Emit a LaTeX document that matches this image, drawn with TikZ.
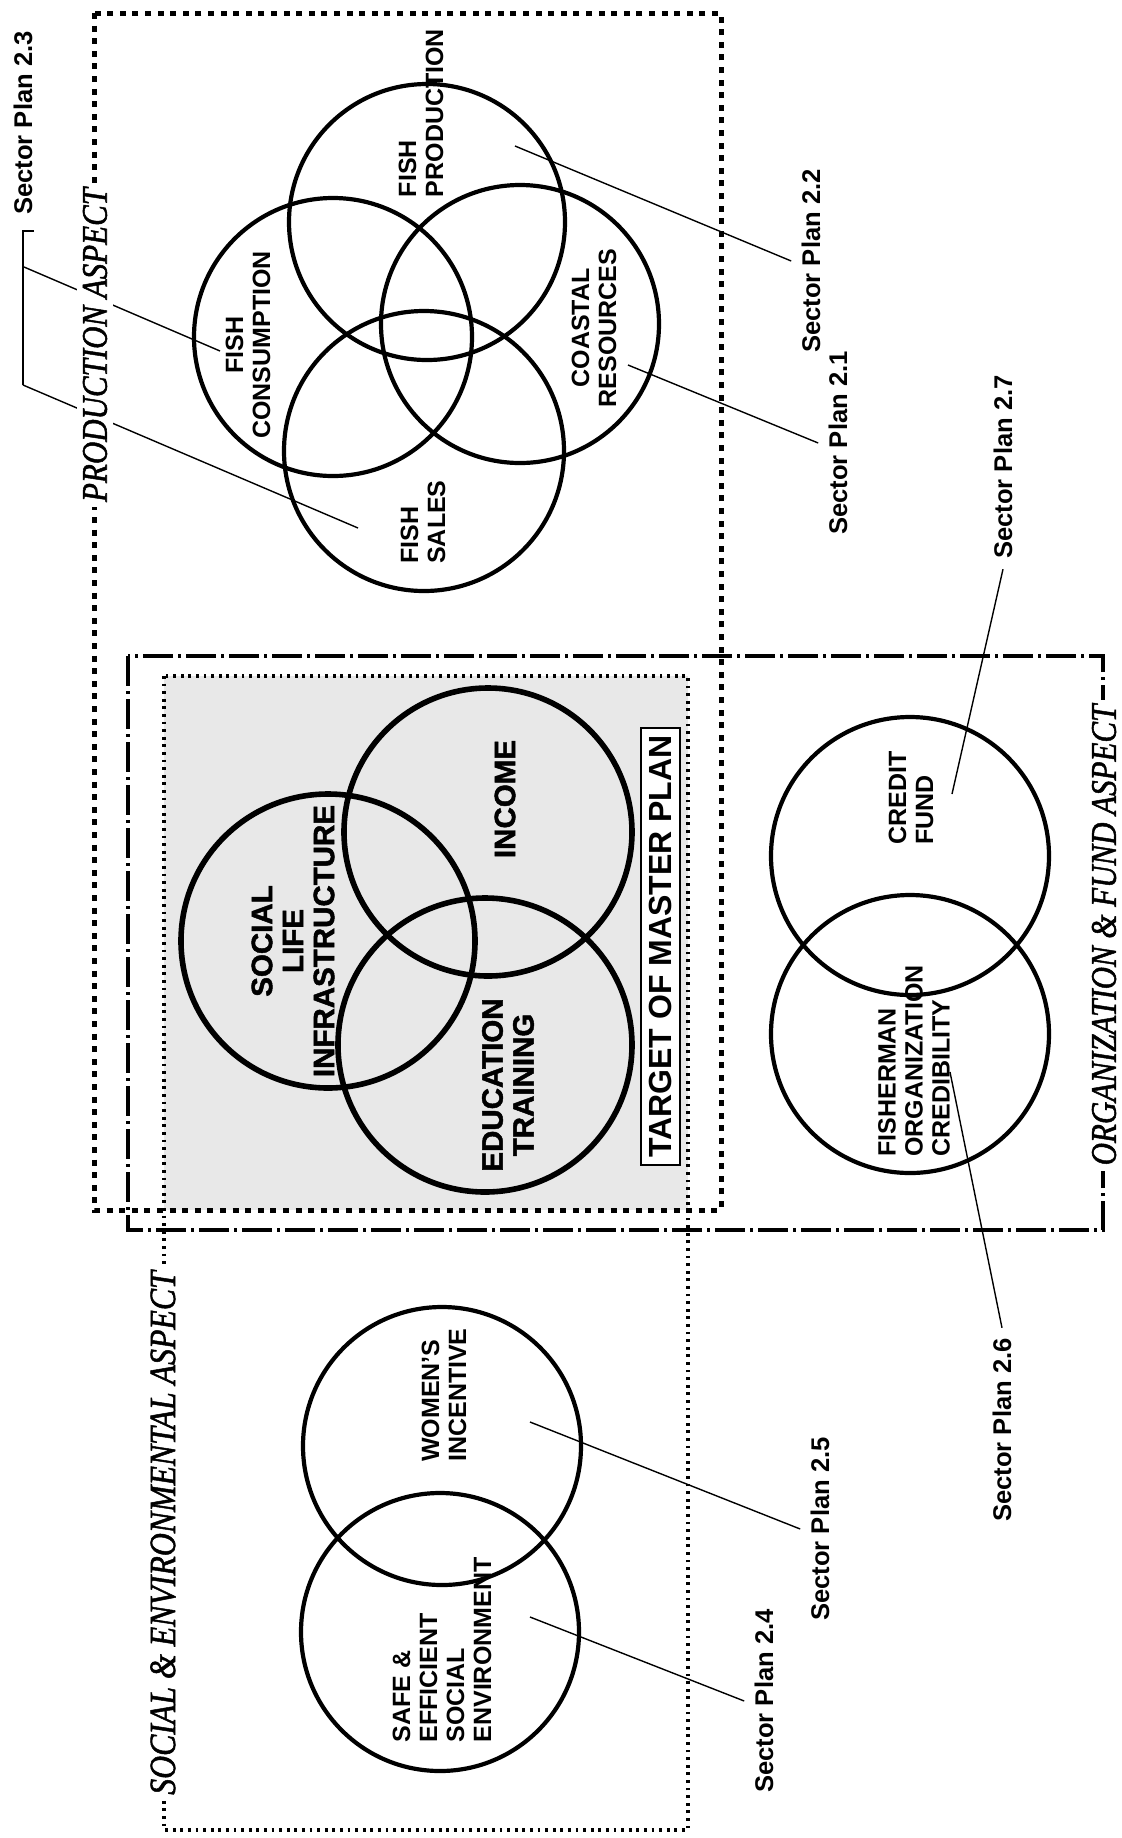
\documentclass[tikz,border=0pt]{standalone}
\usepackage{fontspec}
\setmainfont{Liberation Serif}
\setsansfont{Liberation Sans}
\newfontfamily\heavysans{Liberation Sans Bold}[FakeBold=1.6]
\newfontfamily\aspfont{Liberation Serif Italic}[FakeBold=1.5]
\begin{document}
\begin{tikzpicture}[x=0.5pt,y=-0.5pt,
  lbl/.style={font=\sffamily\bfseries\fontsize{12.5}{13.5}\selectfont, rotate=90, inner sep=0pt},
  splan/.style={font=\sffamily\bfseries\fontsize{12.8}{15}\selectfont, rotate=90, inner sep=5pt},
  tgt/.style={font=\heavysans\fontsize{14.75}{15.5}\selectfont, rotate=90, align=center, inner sep=0pt},
  aspect/.style={font=\aspfont\fontsize{18}{20}\selectfont, rotate=90, xscale=0.86, fill=white, inner sep=3pt},
  ring/.style={draw, line width=2.1pt},
  tring/.style={draw, line width=2.8pt},
  leader/.style={line width=0.7pt},
  bracket/.style={line width=1.1pt},
  prodbox/.style={line width=2.5pt, dash pattern=on 3pt off 3.3pt},
  orgbox/.style={line width=2pt, dash pattern=on 15pt off 2.5pt on 1.5pt off 2.5pt},
  socbox/.style={line width=1.6pt, dash pattern=on 1.4pt off 2.4pt},
  tbox/.style={draw, line width=0.8pt, fill=white, rotate=90, font=\sffamily\bfseries\fontsize{16}{18}\selectfont, minimum width=218.5pt, minimum height=19.5pt, inner sep=0pt}
]
\useasboundingbox (0,0) rectangle (1121,1838);

% shaded target region
\fill[black!9] (164,676) rectangle (688,1210);

% aspect boxes
\draw[prodbox] (94,13) rectangle (721,1210);
\draw[orgbox] (128,656) rectangle (1103,1230);
\draw[socbox] (164,676) rectangle (688,1830);

% production circles
\draw[ring] (427,222) circle[radius=138];
\draw[ring] (333,337) circle[radius=139];
\draw[ring] (520,324) circle[radius=139];
\draw[ring] (424,451) circle[radius=140];

% target circles
\draw[tring] (488,832) circle[radius=144];
\draw[tring] (328,941) circle[radius=147];
\draw[tring] (485,1045) circle[radius=147];

% organization circles
\draw[ring] (910,856) circle[radius=139];
\draw[ring] (910,1034) circle[radius=139];

% social circles
\draw[ring] (442,1446) circle[radius=139];
\draw[ring] (440,1632) circle[radius=139];

% circle labels
\node[lbl, align=left] (fprod) at (421,113) {FISH\\PRODUCTION};
\node[lbl, align=center] (fcons) at (248,345) {FISH\\CONSUMPTION};
\node[lbl, align=center] (coast) at (594,328) {COASTAL\\RESOURCES};
\node[lbl, align=left] (fsales) at (423,522) {FISH\\SALES};
\node[lbl, align=left] (credit) at (911,798) {CREDIT\\FUND};
\node[lbl, align=left] (fisher) at (914,1061) {FISHERMAN\\ORGANIZATION\\CREDIBILITY};
\node[lbl, align=left] (women) at (444,1395) {WOMEN'S\\INCENTIVE};
\node[lbl, align=left] (safe) at (442,1650) {SAFE \&\\EFFICIENT\\SOCIAL\\ENVIRONMENT};

% target labels
\node[tgt] (social) at (293,941) {SOCIAL\\LIFE\\INFRASTRUCTURE};
\node[tgt] (income) at (505,799) {INCOME};
\node[tgt] (edu) at (508,1085) {EDUCATION\\TRAINING};
\node[tbox] (target) at (660.5,946.5) {TARGET OF MASTER PLAN};

% sector plan labels
\node[splan] (t23) at (23,123) {Sector Plan 2.3};
\node[splan] (t22) at (811,261) {Sector Plan 2.2};
\node[splan] (t21) at (838,443) {Sector Plan 2.1};
\node[splan] (t27) at (1003,467) {Sector Plan 2.7};
\node[splan] (t26) at (1002,1430) {Sector Plan 2.6};
\node[splan] (t25) at (820,1529) {Sector Plan 2.5};
\node[splan] (t24) at (764,1701) {Sector Plan 2.4};

% leader end coordinates
\coordinate (b23tick) at (34,231);
\coordinate (b23top) at (23,231);
\coordinate (b23mid) at (24,267);
\coordinate (b23bot) at (23,385);
\coordinate (e23a) at (220,351);
\coordinate (e23b) at (358,528);
\coordinate (e22) at (515,146);
\coordinate (e21) at (628,365);
\coordinate (e27) at (952,794);
\coordinate (e26) at (950,1072);
\coordinate (e25) at (530,1422);
\coordinate (e24) at (530,1617);

% leaders
\draw[bracket] (b23tick) -- (b23top) -- (b23bot);
\draw[leader] (b23mid) -- (e23a);
\draw[leader] (b23bot) -- (e23b);
\draw[leader] (e22) -- (t22.north);
\draw[leader] (e21) -- (t21.north);
\draw[leader] (e27) -- (t27.west);
\draw[leader] (e26) -- (t26.east);
\draw[leader] (e25) -- (t25.north);
\draw[leader] (e24) -- (t24.north);

% aspect labels (break the box lines)
\node[aspect] (prodasp) at (95,345) {PRODUCTION ASPECT};
\node[aspect] (orgasp) at (1104,935) {ORGANIZATION \& FUND ASPECT};
\node[aspect, font=\aspfont\fontsize{18.5}{20}\selectfont] (socasp) at (163,1533) {SOCIAL \& ENVIRONMENTAL ASPECT};
\end{tikzpicture}
\end{document}
